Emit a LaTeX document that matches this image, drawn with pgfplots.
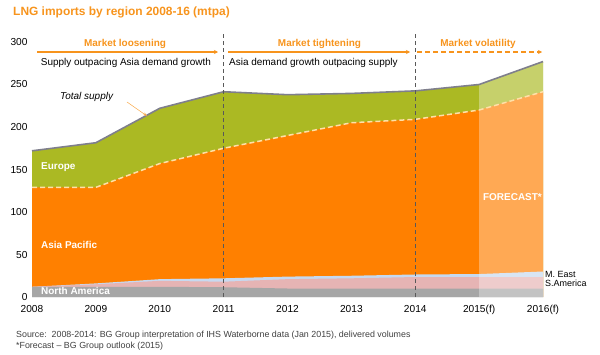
\documentclass[border=0pt]{standalone}
\usepackage{fontspec}
\setmainfont{Liberation Sans}
\usepackage{pgfplots}
\pgfplotsset{compat=1.18}
\usepackage{pgfplotstable}
\usetikzlibrary{arrows.meta}
\definecolor{lngorange}{HTML}{FF8000}
\definecolor{lnggreen}{HTML}{ABB923}
\definecolor{lnggray}{HTML}{A6A6A6}
\definecolor{lngpink}{HTML}{E6B4B4}
\definecolor{lngblue}{HTML}{C6D9F0}
\definecolor{titleorange}{HTML}{F7941D}
\definecolor{totline}{HTML}{7F7F8C}
\definecolor{asialine}{HTML}{FFE0A8}
\definecolor{srcgray}{HTML}{404040}
% cumulative boundaries (mtpa)
% x: 0=2008 ... 8=2016(f)
\pgfplotstableread{
x  na    sa    me    asia   total
0  12    12    12    129    172
1  12    15    16    129    181.5
2  12    19    21    157    222
3  11.5  18    22    175    241.5
4  10    21    24    190    238
5  10    22    25    205    239.5
6  10    23.5  26.5  209    242.5
7  10    23.5  27    220    250
8  10    23.5  30    241.5  277
}\lngdata
\begin{document}
\begin{tikzpicture}[x=1bp,y=1bp]
\path[use as bounding box] (-32,-57) rectangle (568,297);
\begin{axis}[
  at={(0,0)}, anchor=south west,
  scale only axis, width=511bp, height=255bp,
  xmin=0, xmax=8, ymin=0, ymax=300,
  clip=false,
  axis line style={draw=none},
  major tick length=0pt,
  xtick={0,...,8},
  xticklabels={2008,2009,2010,2011,2012,2013,2014,2015(f),2016(f)},
  ytick={0,50,...,300},
  /pgf/number format/assume math mode=true,
  tick label style={font=\fontsize{10.2}{12}\selectfont, text=black},
  xticklabel style={yshift=-5bp},
  yticklabel style={xshift=-1bp},
]
\addplot[fill=lnggreen, draw=none] table[x=x, y=total] {\lngdata} \closedcycle;
\addplot[fill=lngorange, draw=none] table[x=x, y=asia] {\lngdata} \closedcycle;
\addplot[fill=lngblue, draw=none] table[x=x, y=me] {\lngdata} \closedcycle;
\addplot[fill=lngpink, draw=none] table[x=x, y=sa] {\lngdata} \closedcycle;
\addplot[fill=lnggray, draw=none] table[x=x, y=na] {\lngdata} \closedcycle;
\fill[white, fill opacity=0.33] (axis cs:7,0) rectangle (axis cs:8,300);
\draw[gray!15, line width=1pt] (axis cs:0,-0.6) -- (axis cs:8,-0.6);
\addplot[asialine, line width=1.5pt, dash pattern=on 5bp off 3bp] table[x=x, y=asia] {\lngdata};
\addplot[totline, line width=1.6pt] table[x=x, y=total] {\lngdata};
\draw[black!65, line width=0.8pt, dash pattern=on 4bp off 3bp] (axis cs:3,0) -- (axis cs:3,310.5);
\draw[black!65, line width=0.8pt, dash pattern=on 4bp off 3bp] (axis cs:6,0) -- (axis cs:6,310.5);
\end{axis}
% title
\node[anchor=west, inner sep=0pt, text=titleorange, font=\fontsize{12}{14}\selectfont\bfseries] at (-19,285) {LNG imports by region 2008-16 (mtpa)};
% market phases
\node[inner sep=0pt, text=titleorange, font=\fontsize{10}{12}\selectfont\bfseries] at (93,253) {Market loosening};
\node[inner sep=0pt, text=titleorange, font=\fontsize{10}{12}\selectfont\bfseries] at (287.5,253) {Market tightening};
\node[inner sep=0pt, text=titleorange, font=\fontsize{10}{12}\selectfont\bfseries] at (446,253) {Market volatility};
\draw[titleorange, line width=1.3pt, -{Stealth[length=4bp,width=4bp]}] (5,245) -- (186,245);
\draw[titleorange, line width=1.3pt, -{Stealth[length=4bp,width=4bp]}] (196,245) -- (378,245);
\draw[titleorange, line width=1.3pt, dash pattern=on 5bp off 3bp, -{Stealth[length=4bp,width=4bp]}] (385,245) -- (510,245);
\node[anchor=west, inner sep=0pt, font=\fontsize{10}{12}\selectfont] at (8.7,234) {Supply outpacing Asia demand growth};
\node[anchor=west, inner sep=0pt, font=\fontsize{10}{12}\selectfont] at (197,234) {Asia demand growth outpacing supply};
% total supply annotation
\node[anchor=west, inner sep=0pt, font=\fontsize{10}{12}\selectfont\itshape] at (28,200) {Total supply};
\draw[titleorange!80, line width=0.5pt, -{Stealth[length=4bp,width=3bp]}] (95,195) -- (115,181);
% region labels
\node[anchor=west, inner sep=0pt, text=white, font=\fontsize{10}{12}\selectfont\bfseries] at (9,130) {Europe};
\node[anchor=west, inner sep=0pt, text=white, font=\fontsize{10}{12}\selectfont\bfseries] at (9,52) {Asia Pacific};
\node[anchor=west, inner sep=0pt, text=white, font=\fontsize{10}{12}\selectfont\bfseries] at (9,6) {North America};
\node[anchor=east, inner sep=0pt, text=white, font=\fontsize{10}{12}\selectfont\bfseries] at (510,100) {FORECAST*};
\node[anchor=west, inner sep=0pt, font=\fontsize{9}{9}\selectfont] at (513,23) {M. East};
\node[anchor=west, inner sep=0pt, font=\fontsize{9}{9}\selectfont] at (513,14) {S.America};
% source
\node[anchor=west, inner sep=0pt, text=srcgray, font=\fontsize{8.9}{10}\selectfont] at (-16,-38) {Source:\ \ 2008-2014: BG Group interpretation of IHS Waterborne data (Jan 2015), delivered volumes};
\node[anchor=west, inner sep=0pt, text=srcgray, font=\fontsize{8.9}{10}\selectfont] at (-16,-49) {*Forecast -- BG Group outlook (2015)};
\end{tikzpicture}
\end{document}
